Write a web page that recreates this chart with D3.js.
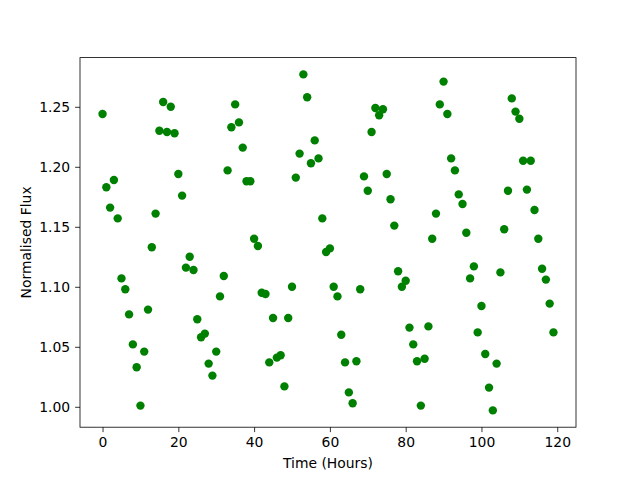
<!DOCTYPE html>
<html>
<head>
<meta charset="utf-8">
<script src="https://cdn.jsdelivr.net/npm/d3@7"></script>
<style>
  body { margin: 0; background: #fff; }
  svg { display: block; }
  text { font-family: "DejaVu Sans", sans-serif; fill: #000; }
</style>
</head>
<body>
<svg id="chart" width="640" height="480"></svg>
<script>
// hourly flux readings, one per hour from 0 to 119
var hours = d3.range(0, 120);
var flux = [
    1.244, 1.183, 1.166, 1.189, 1.157, 1.107, 1.098, 1.077, 1.052, 1.033,
    1.001, 1.046, 1.081, 1.133, 1.161, 1.230, 1.254, 1.229, 1.250, 1.228,
    1.194, 1.176, 1.116, 1.125, 1.114, 1.073, 1.058, 1.061, 1.036, 1.026,
    1.046, 1.092, 1.109, 1.197, 1.233, 1.252, 1.237, 1.216, 1.188, 1.188,
    1.140, 1.134, 1.095, 1.094, 1.037, 1.074, 1.041, 1.043, 1.017, 1.074,
    1.100, 1.191, 1.211, 1.277, 1.258, 1.203, 1.222, 1.207, 1.157, 1.129,
    1.132, 1.100, 1.092, 1.060, 1.037, 1.012, 1.003, 1.038, 1.098, 1.192,
    1.180, 1.229, 1.249, 1.243, 1.248, 1.194, 1.173, 1.151, 1.113, 1.100,
    1.105, 1.066, 1.052, 1.038, 1.001, 1.040, 1.067, 1.140, 1.161, 1.252,
    1.271, 1.244, 1.207, 1.197, 1.177, 1.169, 1.145, 1.107, 1.117, 1.062,
    1.084, 1.044, 1.016, 0.997, 1.036, 1.112, 1.148, 1.180, 1.257, 1.246,
    1.240, 1.205, 1.181, 1.205, 1.164, 1.140, 1.115, 1.106, 1.086, 1.062
];
var xTicks = [0, 20, 40, 60, 80, 100, 120];
var yTicks = [1.00, 1.05, 1.10, 1.15, 1.20, 1.25];

var svg = d3.select("#chart");
// plot box (matplotlib default subplot params)
var plotL = 80, plotR = 576, plotT = 57.6, plotB = 427.2;

// matplotlib style 5% margins
function padded(ext) {
    var p = (ext[1] - ext[0]) * 0.05;
    return [ext[0] - p, ext[1] + p];
}

var x = d3.scaleLinear().domain(padded(d3.extent(hours))).range([plotL, plotR]);
var y = d3.scaleLinear().domain(padded(d3.extent(flux))).range([plotB, plotT]);

var pts = hours.map(function (h, i) { return {h: h, f: flux[i]}; });

svg.append("g")
    .selectAll("circle")
    .data(pts)
    .enter().append("circle")
    .attr("cx", function (d) { return x(d.h); })
    .attr("cy", function (d) { return y(d.f); })
    .attr("r", 4.2)
    .attr("fill", "#008000");

var xAxis = svg.append("g")
    .attr("transform", "translate(0," + plotB + ")")
    .call(d3.axisBottom(x).tickValues(xTicks).tickSize(4.9).tickPadding(4.9).tickFormat(d3.format("d")));
var yAxis = svg.append("g")
    .attr("transform", "translate(" + plotL + ",0)")
    .call(d3.axisLeft(y).tickValues(yTicks).tickSize(4.9).tickPadding(4.9).tickFormat(d3.format(".2f")));

[xAxis, yAxis].forEach(function (a) {
    a.select(".domain").remove();
    a.selectAll("line").attr("stroke", "#000").attr("stroke-width", 0.8);
    a.selectAll("text").style("font-size", "13.9px").attr("font-family", null);
});

// frame
svg.append("rect")
    .attr("x", plotL).attr("y", plotT)
    .attr("width", plotR - plotL).attr("height", plotB - plotT)
    .attr("fill", "none").attr("stroke", "#000").attr("stroke-width", 0.8);

svg.append("text")
    .attr("x", (plotL + plotR) / 2).attr("y", 468)
    .attr("text-anchor", "middle")
    .style("font-size", "13.9px")
    .text("Time (Hours)");

svg.append("text")
    .attr("transform", "translate(31," + ((plotT + plotB) / 2) + ") rotate(-90)")
    .attr("text-anchor", "middle")
    .style("font-size", "13.9px")
    .text("Normalised Flux");
</script>
</body>
</html>
